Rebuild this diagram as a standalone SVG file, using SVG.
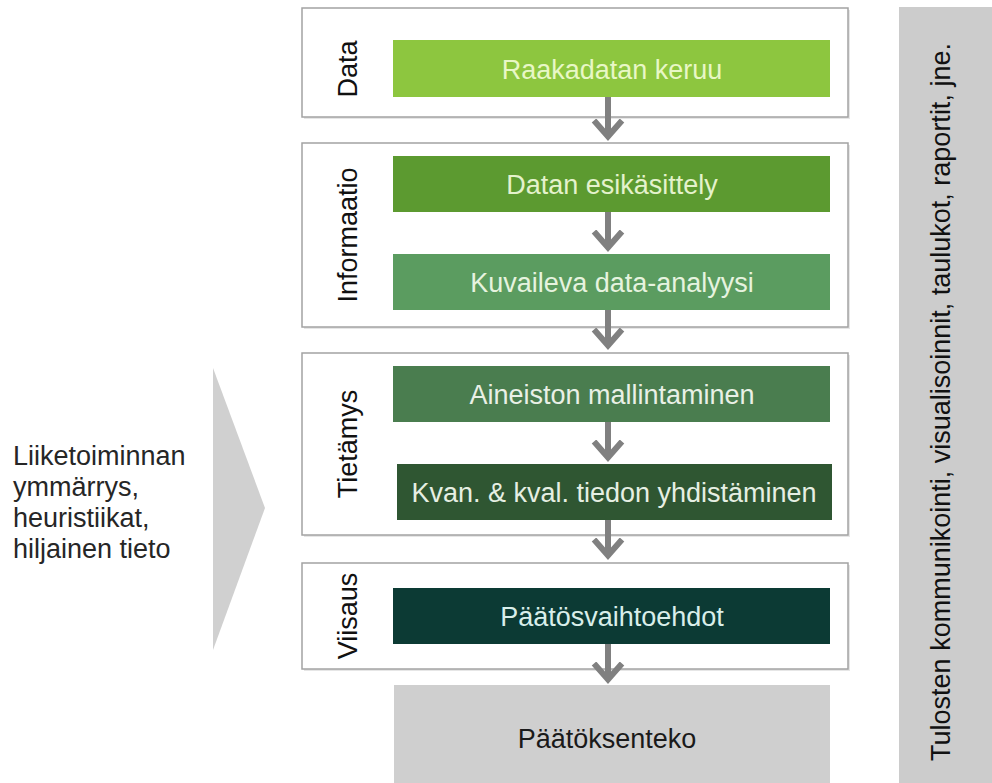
<svg xmlns="http://www.w3.org/2000/svg" width="992" height="783" viewBox="0 0 992 783">
  <style>
    text { font-family: "Liberation Sans", Arial, sans-serif; font-size: 27px; }
    .stage { fill: #ffffff; stroke: #a3a3a3; stroke-width: 1.5; }
    .shadow { fill: #e6e6e6; }
    .step { text-anchor: middle; }
    .side { fill: #111111; text-anchor: middle; }
    .flow { stroke: #808080; stroke-width: 6; fill: none; }
  </style>
  <defs>
    <marker id="chevron" markerUnits="userSpaceOnUse" markerWidth="40" markerHeight="40" refX="16.5" refY="20" orient="auto">
      <path d="M2,6 L18,20 L2,34" fill="none" stroke="#808080" stroke-width="6" stroke-linejoin="miter"/>
    </marker>
  </defs>

  <rect width="992" height="783" fill="#ffffff"/>

  <!-- outputs bar on the right -->
  <g id="outputs">
    <rect x="899" y="7" width="93" height="776" fill="#cccccc"/>
    <text transform="translate(950,402) rotate(-90)" class="side" fill="#1a1a1a">Tulosten kommunikointi, visualisoinnit, taulukot, raportit, jne.</text>
  </g>

  <!-- tacit knowledge input -->
  <g id="tacit">
    <text x="13" y="465" fill="#262626">Liiketoiminnan</text>
    <text x="13" y="496" fill="#262626">ymmärrys,</text>
    <text x="13" y="527" fill="#262626">heuristiikat,</text>
    <text x="13" y="558" fill="#262626">hiljainen tieto</text>
    <polygon points="213,368 265,508 213,650" fill="#d0d0d0"/>
  </g>

  <!-- stage frames -->
  <g id="stage-data">
    <rect class="shadow" x="304" y="10" width="546" height="109"/>
    <rect class="stage" x="302" y="8" width="546" height="109"/>
    <text class="side" transform="translate(357,69) rotate(-90)">Data</text>
  </g>
  <g id="stage-informaatio">
    <rect class="shadow" x="304" y="145" width="546" height="184"/>
    <rect class="stage" x="302" y="143" width="546" height="184"/>
    <text class="side" transform="translate(357,235) rotate(-90)">Informaatio</text>
  </g>
  <g id="stage-tietamys">
    <rect class="shadow" x="304" y="355" width="546" height="182"/>
    <rect class="stage" x="302" y="353" width="546" height="182"/>
    <text class="side" transform="translate(357,444) rotate(-90)">Tietämys</text>
  </g>
  <g id="stage-viisaus">
    <rect class="shadow" x="304" y="565" width="546" height="106"/>
    <rect class="stage" x="302" y="563" width="546" height="106"/>
    <text class="side" transform="translate(357,616) rotate(-90)">Viisaus</text>
  </g>

  <!-- process steps -->
  <g id="raakadatan-keruu">
    <rect x="393" y="40" width="437" height="57" fill="#8dc63f"/>
    <text class="step" x="612" y="79" fill="#e8f7c6">Raakadatan keruu</text>
  </g>
  <g id="datan-esikasittely">
    <rect x="393" y="156" width="437" height="56" fill="#5c9a30"/>
    <text class="step" x="612" y="194" fill="#e4f2cc">Datan esikäsittely</text>
  </g>
  <g id="kuvaileva-analyysi">
    <rect x="393" y="254" width="437" height="56" fill="#5b9c60"/>
    <text class="step" x="612" y="292" fill="#e6f3df">Kuvaileva data-analyysi</text>
  </g>
  <g id="mallintaminen">
    <rect x="393" y="366" width="437" height="56" fill="#4a7d4f"/>
    <text class="step" x="612" y="404" fill="#e9f0e6">Aineiston mallintaminen</text>
  </g>
  <g id="yhdistaminen">
    <rect x="397" y="464" width="435" height="56" fill="#2f5632"/>
    <text class="step" x="614" y="502" fill="#e6efe3">Kvan. &amp; kval. tiedon yhdistäminen</text>
  </g>
  <g id="vaihtoehdot">
    <rect x="393" y="588" width="437" height="56" fill="#0c3a34"/>
    <text class="step" x="612" y="626" fill="#d9eeea">Päätösvaihtoehdot</text>
  </g>
  <g id="paatoksenteko">
    <rect x="394" y="685" width="436" height="98" fill="#cfcfcf"/>
    <text class="step" x="607" y="748" fill="#1a1a1a">Päätöksenteko</text>
  </g>

  <!-- connectors -->
  <g id="connectors">
    <line class="flow" x1="608" y1="97" x2="608" y2="135" marker-end="url(#chevron)"/>
    <line class="flow" x1="608" y1="212" x2="608" y2="246" marker-end="url(#chevron)"/>
    <line class="flow" x1="608" y1="310" x2="608" y2="344" marker-end="url(#chevron)"/>
    <line class="flow" x1="608" y1="422" x2="608" y2="456" marker-end="url(#chevron)"/>
    <line class="flow" x1="608" y1="520" x2="608" y2="554" marker-end="url(#chevron)"/>
    <line class="flow" x1="608" y1="644" x2="608" y2="678" marker-end="url(#chevron)"/>
  </g>
</svg>
